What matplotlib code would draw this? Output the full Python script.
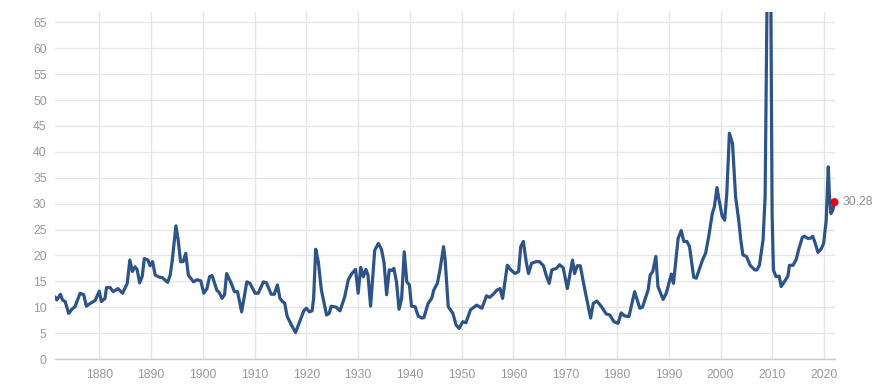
import matplotlib
matplotlib.use("Agg")
import matplotlib.pyplot as plt

years = [1871.45, 1871.8, 1872.5, 1872.9, 1873.4, 1874.1, 1874.7, 1875.3, 1876.3, 1877.0, 1877.5,
         1878.2, 1879.2, 1880.0, 1880.4, 1881.1, 1881.4, 1882.1, 1882.7, 1883.6, 1884.5, 1885.4,
         1885.9, 1886.4, 1886.9, 1887.3, 1887.8, 1888.3, 1888.7, 1889.4, 1889.8, 1890.3, 1890.8,
         1891.6, 1892.2, 1893.2, 1893.7, 1894.1, 1894.8, 1895.2, 1895.7, 1896.2, 1896.7, 1897.2,
         1898.2, 1898.9, 1899.6, 1900.2, 1900.8, 1901.3, 1901.8, 1902.7, 1903.2, 1903.7, 1904.2,
         1904.6, 1905.5, 1906.1, 1906.7, 1907.5, 1908.5, 1909.1, 1910.1, 1910.7, 1911.7, 1912.3,
         1913.2, 1913.8, 1914.4, 1914.9, 1915.4, 1915.8, 1916.3, 1917.1, 1917.9, 1918.7, 1919.5,
         1920.0, 1920.6, 1921.1, 1921.4, 1921.8, 1922.3, 1922.9, 1923.9, 1924.4, 1924.8, 1925.8,
         1926.5, 1927.4, 1928.1, 1928.7, 1929.5, 1930.0, 1930.5, 1931.0, 1931.5, 1931.9, 1932.4,
         1933.2, 1933.9, 1934.5, 1935.0, 1935.5, 1936.0, 1936.5, 1936.9, 1937.4, 1937.9, 1938.4,
         1938.9, 1939.4, 1939.9, 1940.3, 1941.0, 1941.6, 1942.3, 1942.7, 1943.5, 1944.2, 1944.6,
         1945.3, 1945.8, 1946.5, 1946.8, 1947.4, 1948.3, 1948.9, 1949.5, 1950.2, 1950.8, 1951.7,
         1952.9, 1953.9, 1954.8, 1955.4, 1956.1, 1956.8, 1957.4, 1957.9, 1958.8, 1959.5, 1960.3,
         1961.0, 1961.4, 1961.9, 1962.5, 1962.9, 1963.5, 1964.4, 1965.0, 1965.8, 1966.3, 1966.9,
         1967.4, 1968.3, 1968.9, 1969.6, 1970.4, 1971.4, 1971.8, 1972.3, 1972.9, 1973.8, 1974.9,
         1975.4, 1976.1, 1977.0, 1977.9, 1978.6, 1979.4, 1980.2, 1980.8, 1981.5, 1982.3, 1983.4,
         1984.4, 1984.9, 1986.0, 1986.4, 1986.9, 1987.5, 1987.9, 1988.9, 1989.5, 1990.5, 1990.9,
         1991.8, 1992.4, 1992.9, 1993.5, 1994.0, 1994.8, 1995.3, 1996.5, 1997.1, 1997.7, 1998.4,
         1998.8, 1999.3, 1999.7, 2000.3, 2000.8, 2001.2, 2001.7, 2002.3, 2002.9, 2003.5, 2003.9,
         2004.3, 2005.0, 2005.7, 2006.6, 2007.0, 2007.5, 2008.2, 2008.6, 2008.9, 2009.4, 2009.7,
         2009.95, 2010.2, 2010.7, 2011.3, 2011.7, 2012.3, 2013.0, 2013.3, 2014.0, 2014.6, 2015.1,
         2015.8, 2016.2, 2016.8, 2017.3, 2017.8, 2018.3, 2018.8, 2019.4, 2019.9, 2020.4, 2020.8,
         2021.0, 2021.3, 2021.7, 2022.0]
pe = [12.0, 11.4, 12.5, 11.4, 11.1, 8.8, 9.6, 10.1, 12.7, 12.4, 10.2,
      10.7, 11.3, 13.1, 11.1, 11.7, 13.8, 13.8, 13.0, 13.6, 12.7, 14.6,
      19.1, 16.9, 17.8, 17.3, 14.7, 16.0, 19.4, 19.1, 18.0, 18.8, 16.2,
      15.8, 15.7, 14.8, 16.2, 19.1, 25.7, 23.3, 18.8, 18.8, 20.4, 16.2,
      14.9, 15.3, 15.1, 12.7, 13.6, 15.9, 16.1, 13.3, 12.8, 11.7, 12.4,
      16.5, 14.6, 13.0, 13.0, 9.1, 14.9, 14.6, 12.7, 12.7, 14.9, 14.7,
      12.5, 12.5, 14.3, 11.7, 11.1, 10.8, 8.2, 6.6, 5.1, 7.2, 9.3,
      9.8, 9.1, 9.3, 11.7, 21.2, 18.8, 13.3, 8.5, 8.8, 10.2, 10.0,
      9.3, 12.0, 15.3, 16.4, 17.3, 12.7, 17.7, 15.9, 17.3, 16.2, 10.2,
      21.0, 22.3, 21.2, 18.6, 12.4, 17.2, 17.1, 17.5, 14.9, 9.6, 11.7,
      20.7, 14.9, 14.3, 10.2, 10.1, 8.3, 7.9, 8.0, 10.7, 11.7, 13.3,
      14.6, 17.2, 21.7, 19.1, 10.1, 8.8, 6.6, 5.9, 7.2, 7.0, 9.5,
      10.4, 9.8, 12.2, 11.9, 12.5, 13.3, 13.6, 11.7, 18.1, 17.2, 16.5,
      16.9, 21.7, 22.7, 18.5, 16.5, 18.5, 18.8, 18.8, 18.0, 16.2, 14.6,
      17.2, 17.5, 18.2, 17.6, 13.6, 19.1, 16.5, 18.0, 18.0, 13.3, 7.9,
      10.7, 11.2, 10.1, 8.7, 8.5, 7.2, 6.9, 8.9, 8.3, 8.2, 13.0,
      9.8, 10.0, 13.3, 16.2, 16.9, 19.8, 14.0, 11.5, 12.7, 16.4, 14.6,
      23.3, 24.8, 22.7, 22.7, 21.7, 15.8, 15.6, 19.1, 20.4, 23.6, 28.1,
      29.4, 33.1, 30.7, 27.6, 26.8, 32.0, 43.6, 41.6, 31.3, 26.8, 23.0,
      20.1, 19.8, 18.1, 17.2, 17.2, 18.1, 23.0, 31.3, 60.7, 123.7, 70.0,
      28.0, 17.2, 15.9, 16.0, 14.0, 14.9, 16.0, 18.1, 18.1, 19.2, 21.2,
      23.5, 23.7, 23.3, 23.3, 23.7, 22.3, 20.6, 21.2, 22.3, 26.8, 37.1,
      32.0, 28.1, 28.8, 30.28]

yticks = list(range(0, 66, 5))
xticks = list(range(1880, 2021, 10))
last_label = "30.28"

plt.rcParams['font.family'] = ['Liberation Sans', 'DejaVu Sans']
fig = plt.figure(figsize=(8.9, 3.84), dpi=100)
ax = fig.add_axes([55/890, 25/384, (834.5-55)/890, (359-12)/384])

ax.plot(years, pe, color='#2c5489', lw=2.3, solid_joinstyle='round', solid_capstyle='round',
        zorder=3, clip_on=True)
ax.scatter([years[-1]], [pe[-1]], s=34, color='#e8001c', zorder=4, clip_on=False, edgecolors='none')
ax.annotate(last_label, (years[-1], pe[-1]), xytext=(6, 0), textcoords='offset points',
            va='center', ha='left', fontsize=8.7, color='#909090', annotation_clip=False)

ax.set_xlim(years[0], years[-1])
ax.set_ylim(0, 67)
ax.set_yticks(yticks)
ax.set_xticks(xticks)
ax.grid(True, color='#e6e6e6', lw=1)
ax.set_axisbelow(True)
for s in ['top', 'right', 'left']:
    ax.spines[s].set_visible(False)
ax.spines['bottom'].set_color('#cccccc')
ax.spines['bottom'].set_linewidth(1)
ax.tick_params(axis='both', length=0, labelsize=8.7, colors='#999999')
ax.tick_params(axis='y', pad=6)
ax.tick_params(axis='x', pad=7)

fig.savefig('out.png', dpi=100, facecolor='white')
